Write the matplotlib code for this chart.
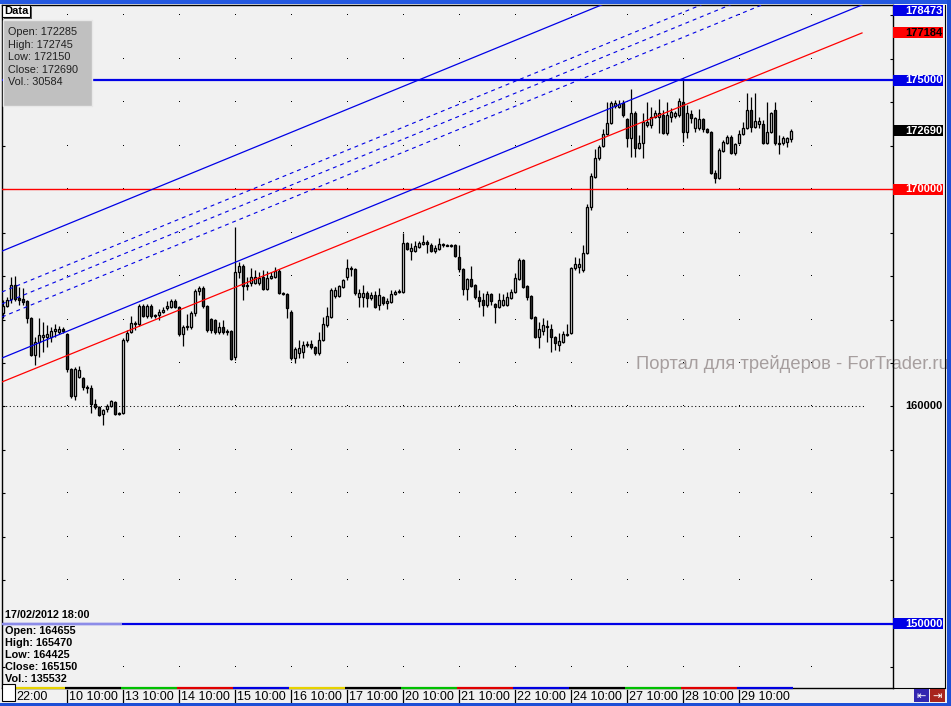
import numpy as np
import matplotlib
matplotlib.use('Agg')
import matplotlib.pyplot as plt
from matplotlib.patches import Rectangle

plt.rcParams['font.family'] = ['Liberation Sans', 'DejaVu Sans']

# hourly bars, 9 Feb 2012 22:00 .. 29 Feb 2012 (prices)
opens = [164300, 164620, 164950, 165590, 164990, 164950, 164850, 164070, 162370, 162970,
         163200, 163200, 163200, 163470, 163430, 163570, 163340, 161730, 160480, 161360,
         161310, 160900, 160850, 160120, 159980, 159660, 159890, 160020, 160210, 159700,
         159700, 163060, 163430, 163800, 163800, 164620, 164160, 164620, 164210, 164210,
         164350, 164530, 164580, 164850, 164580, 163340, 163660, 163660, 164300, 165310,
         165450, 164620, 164030, 163980, 163430, 163660, 163470, 163470, 162280, 166190,
         166460, 165590, 165680, 165680, 165680, 165960, 165410, 165910, 165960, 166230,
         165220, 165180, 164350, 162230, 162460, 162510, 162830, 162880, 162740, 162460,
         163060, 163750, 164120, 165080, 165080, 165500, 165960, 166370, 166330, 165040,
         165040, 165220, 164990, 165130, 164655, 165040, 164760, 164810, 165180, 165270,
         165270, 167520, 167150, 167150, 167340, 167480, 167570, 167430, 167150, 167250,
         167480, 167430, 167430, 167430, 166880, 166330, 165410, 165870, 165590, 165040,
         164900, 164670, 165180, 164720, 164580, 164670, 164670, 164990, 165270, 165870,
         166740, 165540, 165080, 164120, 163200, 163470, 163700, 163570, 163200, 162830,
         162970, 163290, 163380, 166370, 166420, 166280, 167060, 169180, 170560, 171430,
         171980, 172540, 173040, 173820, 173780, 173960, 173230, 172350, 173500, 171890,
         172120, 172950, 172950, 173320, 173320, 173410, 172580, 173320, 173360, 173410,
         174010, 172630, 173460, 172810, 172810, 173230, 172770, 172630, 170740, 170510,
         171750, 172120, 172400, 171660, 172120, 172540, 172810, 173640, 172860, 173000,
         173000, 172120, 172630, 173640, 172120, 172120, 172170, 172285]
highs = [164900, 165040, 165960, 166000, 165500, 165450, 164900, 164120, 163200, 164070,
         163890, 163750, 163660, 163800, 163700, 163660, 163380, 161770, 161820, 161860,
         161360, 160990, 160990, 160350, 160020, 159890, 160120, 160300, 160250, 159750,
         163150, 163520, 164160, 163930, 164720, 164720, 164720, 164720, 164260, 164490,
         164580, 164850, 164950, 164950, 164620, 163750, 164260, 164390, 165410, 165540,
         165540, 164670, 164070, 164030, 163890, 163980, 163570, 163520, 168260, 166650,
         166560, 165960, 166370, 166280, 166190, 166280, 166230, 166190, 166420, 166330,
         165270, 165220, 164440, 162740, 163060, 163010, 163010, 163060, 162780, 163430,
         164120, 164580, 165450, 165500, 165590, 165870, 166790, 166460, 166370, 165410,
         165590, 165310, 165270, 165310, 165470, 165080, 164990, 165360, 165360, 165410,
         167980, 167570, 167520, 167610, 167610, 167890, 167660, 167520, 167430, 167750,
         167520, 167480, 167480, 167480, 167430, 166370, 165910, 166460, 165640, 165360,
         165220, 165310, 165220, 164760, 165220, 165180, 165270, 165410, 166140, 166830,
         166790, 165590, 165130, 164160, 163890, 164070, 163980, 163800, 163240, 163380,
         163470, 163800, 166420, 166880, 166830, 167430, 169320, 170740, 171850, 172030,
         172770, 174010, 174050, 174100, 174100, 174100, 173270, 174610, 173590, 172490,
         173500, 174010, 173780, 173640, 174150, 173640, 174010, 173730, 173590, 174190,
         175110, 173870, 173640, 173320, 173690, 173270, 172810, 172670, 170880, 171890,
         172260, 172490, 172490, 172120, 172720, 173090, 174420, 174240, 174420, 173320,
         173180, 174010, 173550, 174010, 172490, 172440, 172400, 172745]
lows = [164070, 164580, 164760, 164850, 164670, 164670, 163840, 162320, 161910, 162280,
        162510, 162740, 162970, 163200, 163340, 163380, 161590, 160390, 160300, 161310,
        160760, 160620, 159700, 159890, 159560, 159150, 159750, 159980, 159610, 159610,
        159660, 162970, 163380, 163520, 163700, 164120, 164070, 164070, 164070, 163980,
        164300, 164440, 164530, 164530, 163240, 162780, 163520, 163570, 164160, 165130,
        164530, 163430, 163380, 163340, 163340, 163340, 163290, 162140, 162140, 165910,
        164900, 165360, 165540, 165640, 165590, 165360, 165360, 165870, 165910, 165180,
        165130, 164070, 162140, 162000, 162230, 162230, 162740, 162650, 162370, 162370,
        163010, 163660, 164070, 164990, 165040, 165450, 165820, 166000, 165130, 164580,
        164580, 164580, 164900, 164530, 164425, 164670, 164490, 164760, 165130, 165220,
        165220, 167200, 166740, 167110, 167290, 167430, 167060, 167110, 167060, 167200,
        167340, 167380, 167340, 166880, 166190, 165130, 164900, 165500, 164950, 164580,
        164160, 164580, 164670, 163840, 164530, 164620, 164620, 164950, 165220, 165820,
        165450, 164900, 164030, 163150, 162690, 163290, 162970, 162510, 162600, 162550,
        162920, 163240, 163340, 166280, 166140, 166190, 167020, 169040, 170510, 171340,
        171940, 172490, 173000, 173730, 173730, 173320, 171940, 171480, 171480, 171850,
        171430, 172860, 172810, 173270, 172580, 172540, 172490, 173090, 173270, 173320,
        172170, 172350, 173040, 172630, 172720, 172630, 172580, 170700, 170280, 170470,
        171710, 172080, 171620, 171570, 172080, 172490, 172770, 172630, 172810, 172810,
        172080, 172080, 172580, 172030, 171620, 172030, 171940, 172150]
closes = [164620, 164900, 165590, 164950, 164900, 164810, 164070, 162370, 162970, 163290,
          163290, 163340, 163470, 163570, 163570, 163470, 161730, 160480, 161730, 161680,
          160900, 160850, 160120, 159980, 159610, 159840, 160020, 160250, 159660, 159660,
          163060, 163380, 163840, 163840, 164620, 164160, 164620, 164160, 164160, 164350,
          164440, 164620, 164850, 164580, 163340, 163660, 163700, 164300, 165310, 165450,
          164620, 163520, 163520, 163430, 163660, 163430, 163430, 162190, 166190, 166460,
          165540, 165540, 165960, 165960, 165910, 165410, 165910, 166000, 166230, 165220,
          165180, 164530, 162230, 162650, 162690, 162830, 162880, 162740, 162460, 163060,
          163800, 164160, 165360, 165360, 165540, 165820, 166370, 166330, 165220, 165220,
          165220, 164990, 165130, 164580, 165150, 164760, 164850, 165180, 165270, 165310,
          167520, 167250, 167290, 167380, 167520, 167570, 167480, 167150, 167290, 167480,
          167430, 167400, 167390, 166920, 166330, 165410, 165870, 165540, 165040, 164850,
          164670, 165180, 164850, 164580, 164900, 164900, 165040, 165270, 165910, 166740,
          165500, 165040, 164070, 163200, 163570, 163750, 163660, 163200, 162920, 163010,
          163340, 163340, 166370, 166560, 166560, 167060, 169180, 170600, 171430, 171940,
          172540, 173040, 173960, 173960, 173920, 173410, 172350, 173500, 171890, 172120,
          173090, 173090, 173320, 173500, 173500, 172580, 173410, 173550, 173500, 174050,
          172630, 173500, 173270, 173270, 173230, 172770, 172630, 170740, 170510, 171800,
          172170, 172400, 171660, 172080, 172540, 172810, 173640, 172860, 173130, 173130,
          172120, 172630, 173500, 172120, 172080, 172350, 172350, 172690]
last_vol = 30584

# bar under cursor (17/02/2012 18:00)
cursor_time = '17/02/2012 18:00'
cursor_ohlcv = [164655, 165470, 164425, 165150, 135532]

# time axis
first_label = '22:00'
first_label_bar = 3.25
day_labels = ['10 10:00', '13 10:00', '14 10:00', '15 10:00', '16 10:00', '17 10:00', '20 10:00',
              '21 10:00', '22 10:00', '24 10:00', '27 10:00', '28 10:00', '29 10:00']
day_start = [16, 30, 44, 58, 72, 86, 100, 114, 128, 142, 156, 170, 184]
next_session = 202
day_colors = ['#e6d200', 'black', '#00c000', '#e00000', '#0000e0', '#e6d200', 'black',
              '#00c000', '#e00000', '#0000e0', 'black', '#00c000', '#e00000', '#0000e0']

# drawn objects
level_blue = [175000, 150000]
level_red = 170000
level_dotted = 160000
line_bars = [-0.25, 214.75]
lower_blue = [162230, 178473]
upper_blue = [167150, 183393]
red_trend = [161130, 177184]
dashed_blue = [[165270, 181513], [164720, 180963], [164120, 180363]]

BLUE = '#0000e6'
RED = '#ff0000'
BG = '#f1f1f1'
W, H = 951, 706

fig = plt.figure(figsize=(W / 100, H / 100), dpi=100, facecolor=BG)


def rect(x0, y0, x1, y1):
    return [x0 / W, 1 - y1 / H, (x1 - x0) / W, (y1 - y0) / H]


ax = fig.add_axes(rect(2, 5, 893, 688), facecolor=BG)
ax.set_xlim(-0.25, 222.5)
ax.set_ylim(147050, 178470)
ax.set_xticks([])
ax.set_yticks(np.arange(148000, 178001, 2000))
ax.tick_params(axis='y', direction='in', length=2.5, width=0.8, left=True, right=True,
               labelleft=False, labelright=False)
for s in ax.spines.values():
    s.set_linewidth(1.0)

# grid dots
gx, gy = np.meshgrid(day_start + [next_session], np.arange(148000, 178001, 2000))
ax.plot(gx.ravel(), gy.ravel(), ls='none', marker=',', color='black', zorder=1)

# candles
o = np.array(opens, float)
c = np.array(closes, float)
hi = np.maximum(np.array(highs, float), np.maximum(o, c))
lo = np.minimum(np.array(lows, float), np.minimum(o, c))
idx = np.arange(len(o))
ax.vlines(idx, lo, hi, color='black', lw=0.9, zorder=3)
up = c >= o
bot = np.minimum(o, c)
ht = np.maximum(np.abs(c - o), 15)
ax.bar(idx[up], ht[up], bottom=bot[up], width=0.62, color='white', edgecolor='black', lw=0.95, zorder=4)
ax.bar(idx[~up], ht[~up], bottom=bot[~up], width=0.62, color='#3c3c3c', edgecolor='black', lw=0.95, zorder=4)

# horizontal levels
ax.axhline(level_red, color=RED, lw=1.0, zorder=5)
for v in level_blue:
    ax.axhline(v, color=BLUE, lw=1.6, zorder=5)
ax.hlines(level_blue[1], -0.25, 29.75, color='#8c8ce8', lw=1.6, zorder=5)
ax.hlines(level_dotted, -0.25, 215.5, color='black', lw=0.75, linestyles=(0, (1, 2.5)), zorder=5)

# channel
ax.plot(line_bars, lower_blue, color=BLUE, lw=0.9, zorder=6)
ax.plot(line_bars, upper_blue, color=BLUE, lw=0.9, zorder=6)
ax.plot(line_bars, red_trend, color=RED, lw=0.9, zorder=6)
for d in dashed_blue:
    ax.plot(line_bars, d, color=BLUE, lw=0.8, dashes=(3.5, 3.5), zorder=6)

ax.text(636 / W, 1 - 364 / H, 'Портал для трейдеров - ForTrader.ru', transform=fig.transFigure,
        fontsize=13.2, color='#a69e9e', ha='left', va='center', clip_on=False, zorder=0.8)

# right price panel
rax = fig.add_axes(rect(893, 5, 945, 688), facecolor='none')
rax.set_xlim(0, 52)
rax.set_ylim(ax.get_ylim())
rax.set_xticks([])
rax.set_yticks([])
rax.spines['top'].set_visible(False)
rax.spines['left'].set_visible(False)
half = 255
tags = [(lower_blue[1], BLUE, 'white'), (red_trend[1], RED, 'black'), (level_blue[0], BLUE, 'white'),
        (closes[-1], 'black', 'white'), (level_red, RED, 'white'), (level_blue[1], BLUE, 'white')]
for v, fc, tc in tags:
    yc = min(v, 178470 - half)
    rax.add_patch(Rectangle((0, yc - half), 50, 2 * half, fc=fc, ec='none'))
    rax.text(49.5, yc, str(v), ha='right', va='center', fontsize=8, fontweight='bold', color=tc)
rax.text(49.5, level_dotted, str(level_dotted), ha='right', va='center', fontsize=8,
         fontweight='bold', color='black')

# time axis
tax = fig.add_axes(rect(2, 686, 893, 703), facecolor='none')
tax.set_xlim(ax.get_xlim())
tax.set_ylim(0, 1)
tax.axis('off')
edges = [first_label_bar] + [d - 0.5 for d in day_start] + [len(opens) - 0.5]
for k, col in enumerate(day_colors):
    tax.plot([edges[k], edges[k + 1]], [0.9, 0.9], color=col, lw=1.6, solid_capstyle='butt')
tax.text(first_label_bar, 0.37, first_label, fontsize=9, ha='left', va='center')
for d, lab in zip(day_start, day_labels):
    tax.plot([d, d], [0.06, 0.78], color='black', lw=0.9)
    tax.text(d + 0.45, 0.37, lab, fontsize=9, ha='left', va='center')

# window chrome / info panels
ov = fig.add_axes([0, 0, 1, 1], facecolor='none')
ov.set_xlim(0, W)
ov.set_ylim(H, 0)
ov.axis('off')
ov.set_zorder(10)
ov.add_patch(Rectangle((0, 0), W, 3.5, fc='#2458e0', ec='none'))
ov.add_patch(Rectangle((947, 0), 4, H, fc='#1d4fd6', ec='none'))
ov.add_patch(Rectangle((0, 703), W, 3, fc='#1d4fd6', ec='none'))
ov.add_patch(Rectangle((914, 689), 15, 13, fc='#3326b0', ec='none'))
ov.add_patch(Rectangle((930, 689), 15, 13, fc='#a8231c', ec='none'))
ov.text(921.5, 695.5, '⇤', color='white', fontsize=8, ha='center', va='center', family='DejaVu Sans')
ov.text(937.5, 695.5, '⇥', color='white', fontsize=8, ha='center', va='center', family='DejaVu Sans')
ov.add_patch(Rectangle((2, 684), 13, 17, fc='white', ec='black', lw=0.8))

ov.add_patch(Rectangle((4, 7), 28, 12, fc='#555555', ec='none'))
ov.add_patch(Rectangle((2, 5), 28, 12, fc='white', ec='black', lw=0.8))
ov.text(4, 11.5, 'Data', fontsize=8, fontweight='bold', va='center', ha='left')

ov.add_patch(Rectangle((3, 20), 89, 86, fc='#c0c0c0', ec='#e8e8e8', lw=1))
info = ['Open: %d' % opens[-1], 'High: %d' % highs[-1], 'Low: %d' % lows[-1],
        'Close: %d' % closes[-1], 'Vol.: %d' % last_vol]
for k, t in enumerate(info):
    ov.text(8, 32 + 12.6 * k, t, fontsize=7.8, va='center', ha='left', color='#202020')

ov.text(5, 614.5, cursor_time, fontsize=7.8, fontweight='bold', va='center', ha='left')
names = ['Open', 'High', 'Low', 'Close', 'Vol.']
for k, (n, v) in enumerate(zip(names, cursor_ohlcv)):
    ov.text(5, 631 + 12 * k, '%s: %d' % (n, v), fontsize=7.8, fontweight='bold', va='center', ha='left')

fig.savefig('out.png', dpi=100, facecolor=BG)
